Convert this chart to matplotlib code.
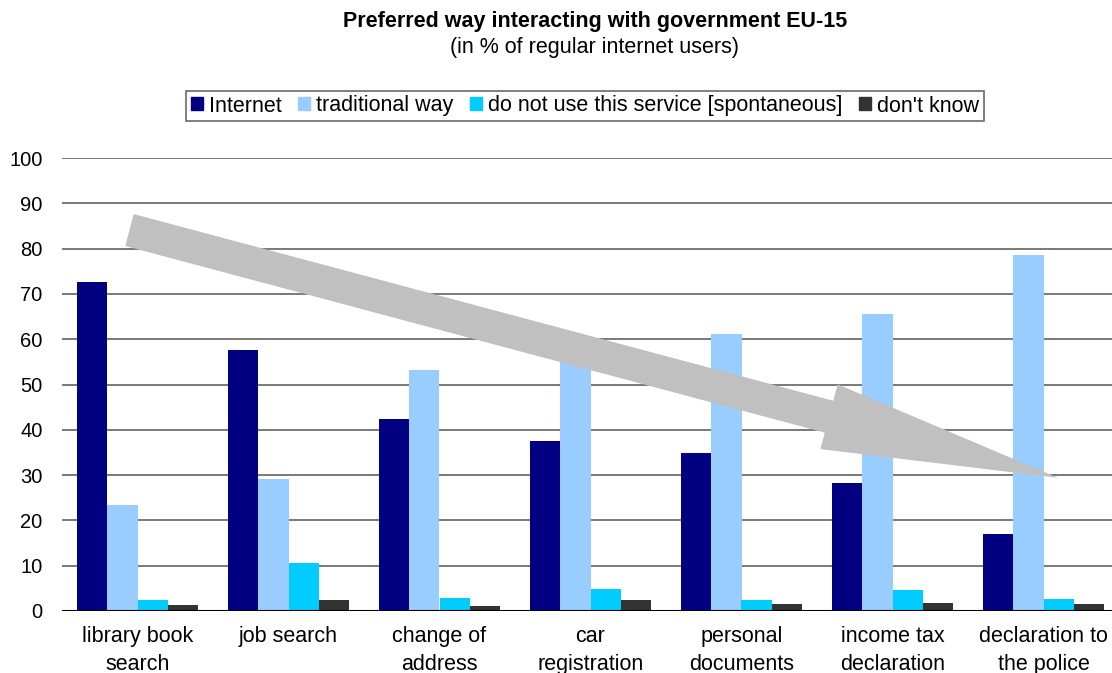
import matplotlib.pyplot as plt
import numpy as np
from matplotlib.patches import FancyArrow, Patch
from matplotlib.transforms import IdentityTransform

plt.rcParams['font.family'] = ['Liberation Sans', 'DejaVu Sans']

categories = ["library book\nsearch", "job search", "change of\naddress", "car\nregistration",
              "personal\ndocuments", "income tax\ndeclaration", "declaration to\nthe police"]
series = ["Internet", "traditional way", "do not use this service [spontaneous]", "don't know"]
internet = [72.6, 57.6, 42.4, 37.5, 34.9, 28.3, 17.0]
traditional = [23.4, 29.1, 53.2, 57.0, 61.1, 65.6, 78.6]
not_used = [2.4, 10.6, 2.9, 4.9, 2.4, 4.6, 2.6]
dont_know = [1.3, 2.4, 1.1, 2.4, 1.5, 1.8, 1.5]
colors = ["#000080", "#99CCFF", "#00CCFF", "#333333"]

W, H = 1112, 673
fig = plt.figure(figsize=(W / 100, H / 100), dpi=100)
# plot area runs a little past the right edge of the figure
ax = fig.add_axes([62 / W, 1 - 611 / H, 7 * 151 / W, (611 - 158) / H])

x = np.arange(len(categories))
bw = 0.2
for i, (vals, c) in enumerate(zip([internet, traditional, not_used, dont_know], colors)):
    ax.bar(x + (i - 1.5) * bw, vals, bw, color=c, zorder=2)

ax.set_xlim(-0.5, len(categories) - 0.5)
ax.set_ylim(0, 100)
ax.set_yticks(range(0, 101, 10))
ax.yaxis.grid(True, color="#555555", lw=1.1, zorder=0)
ax.axhline(0, color="black", lw=1.5, zorder=3)
for s in ax.spines.values():
    s.set_visible(False)
ax.tick_params(axis="y", length=0, pad=14, labelsize=14.5)
ax.tick_params(axis="x", length=0, pad=11, labelsize=15.5)
ax.set_xticks(x)
ax.set_xticklabels(categories, linespacing=1.42, va="top")

# big grey trend arrow, placed in data units and drawn in pixels
fig.canvas.draw()
tail = ax.transData.transform((-0.053, 84.1))
tip = ax.transData.transform((6.096, 29.4))
arrow = FancyArrow(tail[0], tail[1], tip[0] - tail[0], tip[1] - tail[1],
                   width=33, head_width=67, head_length=237,
                   length_includes_head=True, color="#C0C0C0", lw=0,
                   transform=IdentityTransform(), zorder=4)
arrow.set_clip_on(False)
ax.add_patch(arrow)

fig.text(595 / W, 1 - 22 / H, "Preferred way interacting with government EU-15",
         ha="center", va="center", fontsize=15.5, fontweight="bold")
fig.text(594 / W, 1 - 48 / H, "(in % of regular internet users)",
         ha="center", va="center", fontsize=15.5)

handles = [Patch(color=c) for c in colors]
leg = fig.legend(handles, series, loc="center", bbox_to_anchor=(585 / W, 1 - 106 / H),
                 ncol=4, fontsize=15.5, frameon=True, fancybox=False, edgecolor="#444444",
                 handlelength=0.55, handleheight=0.55, handletextpad=0.3, columnspacing=0.75,
                 borderpad=0.22, borderaxespad=0)
leg.get_frame().set_linewidth(1.2)

fig.savefig("out.png", dpi=100)
